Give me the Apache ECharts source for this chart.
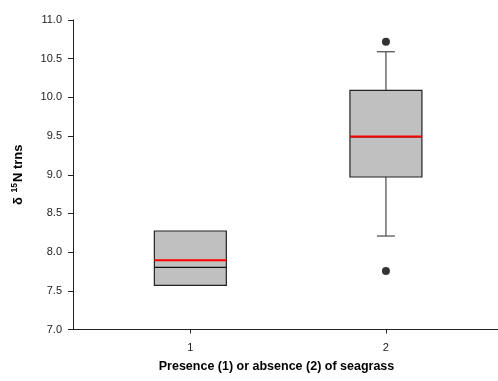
<!DOCTYPE html>
<html>
<head>
<meta charset="utf-8">
<script src="https://cdn.jsdelivr.net/npm/echarts@6/dist/echarts.min.js"></script>
<style>html,body{margin:0;padding:0;background:#fff;}#c{width:498px;height:381px;}</style>
</head>
<body>
<div id="c"></div>
<script>
var categories = [1, 2];
var q1 = [7.571, 8.971];
var q3 = [8.273, 10.091];
var medians = [7.804, 9.488];
var means = [7.894, 9.494];
var whiskerLow = [null, 8.208];
var whiskerHigh = [null, 10.590];
var outlierX = [2, 2];
var outlierY = [10.718, 7.756];
var yTicks = [7.0, 7.5, 8.0, 8.5, 9.0, 9.5, 10.0, 10.5, 11.0];

var boxData = categories.map(function (c, i) {
  return [c, q1[i], q3[i], medians[i], means[i], whiskerLow[i], whiskerHigh[i]];
});
var outlierData = outlierX.map(function (x, i) { return [x, outlierY[i]]; });

var chart = echarts.init(document.getElementById('c'), null, {renderer: 'canvas'});
var FONT = 'Liberation Sans, Arial, sans-serif';
var halfBox = 0.184, halfCap = 0.046;

function renderBox(params, api) {
  var x = api.value(0);
  var lo = api.value(1), hi = api.value(2), med = api.value(3), mn = api.value(4);
  var wl = api.value(5), wh = api.value(6);
  var children = [];
  var whiskerStyle = {stroke: '#555555', lineWidth: 1.3};
  function seg(x1, y1, x2, y2, style) {
    var a = api.coord([x1, y1]), b = api.coord([x2, y2]);
    children.push({type: 'line', shape: {x1: a[0], y1: a[1], x2: b[0], y2: b[1]}, style: style});
  }
  if (!isNaN(wh) && wh !== null && wh !== '-') {
    seg(x, hi, x, wh, whiskerStyle);
    seg(x - halfCap, wh, x + halfCap, wh, whiskerStyle);
  }
  if (!isNaN(wl) && wl !== null && wl !== '-') {
    seg(x, lo, x, wl, whiskerStyle);
    seg(x - halfCap, wl, x + halfCap, wl, whiskerStyle);
  }
  var tl = api.coord([x - halfBox, hi]), br = api.coord([x + halfBox, lo]);
  children.push({type: 'rect', shape: {x: tl[0], y: tl[1], width: br[0] - tl[0], height: br[1] - tl[1]},
    style: {fill: '#c0c0c0', stroke: '#222222', lineWidth: 1.2}});
  seg(x - halfBox, med, x + halfBox, med, {stroke: '#111111', lineWidth: 1.2});
  seg(x - halfBox, mn, x + halfBox, mn, {stroke: '#ff0000', lineWidth: 2});
  return {type: 'group', children: children};
}

chart.setOption({
  animation: false,
  backgroundColor: '#ffffff',
  grid: {left: 73, right: 0, top: 20, bottom: 51.5, containLabel: false},
  xAxis: {
    type: 'value', min: 0.4, max: 2.573,
    name: 'Presence (1) or absence (2) of seagrass',
    nameLocation: 'middle', nameGap: 31,
    nameTextStyle: {fontFamily: FONT, fontSize: 12.5, fontWeight: 'bold', color: '#000', padding: [0, 18, 0, 0]},
    axisLine: {show: true, onZero: false, lineStyle: {color: '#222', width: 1}},
    axisTick: {show: true, length: 4, lineStyle: {color: '#222'}, customValues: categories},
    axisLabel: {fontFamily: FONT, fontSize: 11, color: '#222', margin: 13, customValues: categories,
      formatter: function (v) { return String(v); }},
    splitLine: {show: false}
  },
  yAxis: {
    type: 'value', min: 7, max: 11, interval: 0.5,
    name: '{d|δ }{s|15}{d|N trns}',
    nameLocation: 'middle', nameGap: 48, nameRotate: 90,
    nameTextStyle: {fontFamily: FONT, fontSize: 13, fontWeight: 'bold', color: '#000',
      rich: {
        d: {fontFamily: FONT, fontSize: 13, fontWeight: 'bold', color: '#000', verticalAlign: 'bottom'},
        s: {fontFamily: FONT, fontSize: 8.5, fontWeight: 'bold', color: '#000', verticalAlign: 'top', padding: [0, 1, 6, 1]}
      }},
    axisLine: {show: true, lineStyle: {color: '#222', width: 1}},
    axisTick: {show: true, length: 5, lineStyle: {color: '#222'}},
    axisLabel: {fontFamily: FONT, fontSize: 11, color: '#222', margin: 11,
      formatter: function (v) { return v.toFixed(1); }},
    splitLine: {show: false}
  },
  series: [
    {type: 'custom', renderItem: renderBox, data: boxData, encode: {x: 0, y: [1, 2]}, clip: false},
    {type: 'scatter', data: outlierData, symbol: 'circle', symbolSize: 8,
      itemStyle: {color: '#000'}, clip: false}
  ]
});
</script>
</body>
</html>
